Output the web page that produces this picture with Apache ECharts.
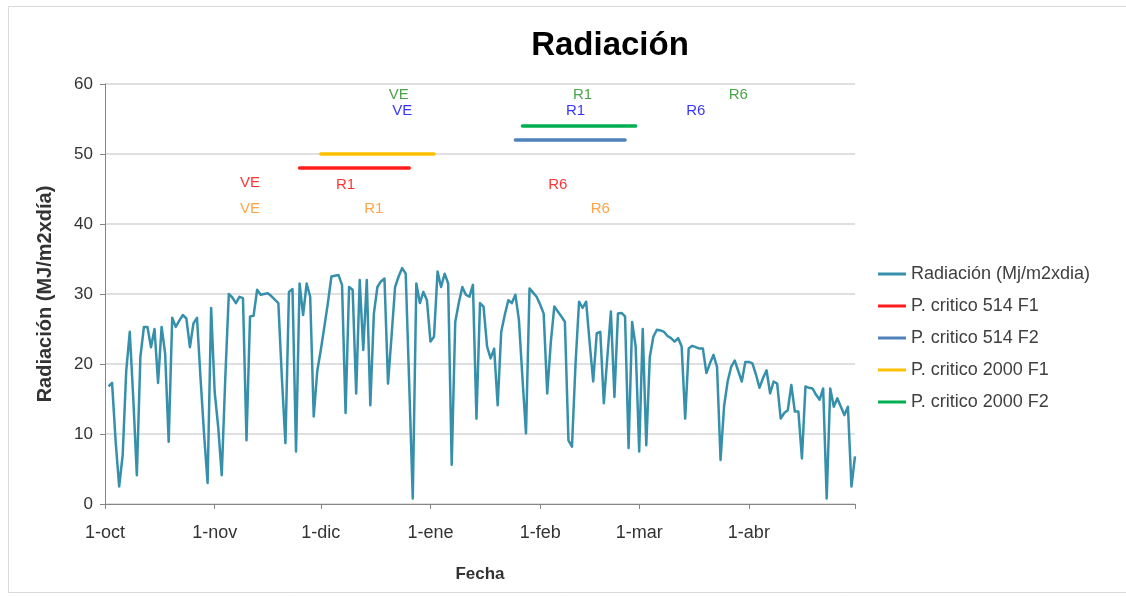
<!DOCTYPE html>
<html>
<head>
<meta charset="utf-8">
<script src="https://cdn.jsdelivr.net/npm/echarts@6/dist/echarts.min.js"></script>
<style>
html,body{margin:0;padding:0;background:#fff;}
#chart{width:1126px;height:597px;}
</style>
</head>
<body>
<div id="chart"></div>
<script>
// ---- Data ----
const monthNames = ['oct','nov','dic','ene','feb','mar','abr','may'];
const monthLengths = [31,30,31,31,28,31,30,1];

// Daily radiation (MJ/m2xdia), from 2-oct to 1-may
const radiacion = [
16.8,17.3,9,2.5,7,19,24.6,15,4.1,21,
25.3,25.3,22.4,25,17.3,25.3,21.5,8.9,26.6,25.3,
26.2,27,26.5,22.4,25.8,26.6,18,10,3,28,
16,11,4.1,18,30,29.5,28.7,29.6,29.4,9.1,
26.8,26.9,30.6,29.9,30,30.1,29.7,29.2,28.7,18,
8.7,30.3,30.7,7.5,31.5,27,31.5,29.6,12.5,19,
22,25.3,28.7,32.5,32.6,32.7,31.3,13,31,30.6,
15.8,32,22,32,14.1,27.2,31,31.8,32.2,17.2,
24,31,32.5,33.7,32.9,17,0.8,31.5,28.7,30.3,
29.1,23.2,23.9,33.2,31,32.9,31.5,5.6,26,28.7,
31,29.9,29.6,31.3,12.2,28.7,28.2,22.5,20.8,22.2,
14.1,24.6,27,29.1,28.7,29.9,26.3,18,10.1,30.8,
30.2,29.6,28.5,27.2,15.8,23,28.2,27.5,26.8,26,
9.1,8.2,20,28.9,28,28.9,23,17.5,24.4,24.6,
14.4,21,27.5,15.3,27.2,27.3,26.8,8,26,22.5,
7.5,25,8.4,21,23.9,24.9,24.8,24.6,24,23.7,
23.2,23.7,22.5,12.2,22.2,22.6,22.4,22.2,22.2,18.7,
20.1,21.3,19.6,6.3,14,17.5,19.6,20.5,19,17.5,
20.3,20.3,20.1,18.5,16.6,18,19.1,15.8,17.5,17.2,
12.2,13,13.4,17,13.2,13.2,6.5,16.8,16.6,16.5,
15.6,14.9,16.5,0.8,16.5,13.9,15.1,13.9,12.7,13.9,
2.5,6.8
];

// Critical periods: [start day index, end day index], level
const critico514F1 = [[55,48],[86,48]];
const critico514F2 = [[116,52],[147,52]];
const critico2000F1 = [[61,50],[93,50]];
const critico2000F2 = [[118,54],[150,54]];

// Phenology labels: [day index, level, text]
const etiquetasRojas = [[41,45.9,'VE'],[68,45.6,'R1'],[128,45.6,'R6']];
const etiquetasNaranjas = [[41,42.2,'VE'],[76,42.2,'R1'],[140,42.2,'R6']];
const etiquetasAzules = [[84,56.1,'VE'],[133,56.1,'R1'],[167,56.1,'R6']];
const etiquetasVerdes = [[83,58.5,'VE'],[135,58.5,'R1'],[179,58.5,'R6']];

const yTicks = {min:0, max:60, interval:10};

// ---- Build categories ----
const categories = [];
monthNames.forEach((m,i)=>{ for(let d=1; d<=monthLengths[i]; d++) categories.push(d+'-'+m); });
const lastIndex = categories.length - 1;
const radData = ['-'].concat(radiacion);

const FONT = 'Liberation Sans, Arial, sans-serif';
const chart = echarts.init(document.getElementById('chart'), null, {renderer:'canvas'});

function labelSeries(data, color){
  return {
    type:'scatter', data:data, symbolSize:1, silent:true,
    itemStyle:{color:'transparent'},
    label:{show:true, position:'inside', formatter:p=>p.data[2], color:color, fontSize:15, fontFamily:FONT},
    z:5
  };
}
function spanSeries(name, data, color){
  return {
    name:name, type:'line', data:data, symbol:'none', silent:true,
    lineStyle:{color:color, width:3.5, cap:'round'}, itemStyle:{color:color}
  };
}

chart.setOption({
  animation:false,
  backgroundColor:'#fff',
  grid:{left:105, right:271, top:84, bottom:93},
  graphic:[
    {type:'rect', shape:{x:8.5,y:6.5,width:1130,height:586}, style:{fill:'none', stroke:'#d9d9d9', lineWidth:1}, silent:true},
    {type:'text', style:{text:'Radiación', x:610, y:46, textAlign:'center', textVerticalAlign:'middle', font:'bold 33px '+FONT, fill:'#000'}}
  ],
  legend:{
    orient:'vertical', left:873, top:260, itemWidth:28, itemHeight:3, itemGap:14, icon:'rect',
    textStyle:{fontSize:18, fontFamily:FONT, color:'#404040'},
    data:['Radiación (Mj/m2xdia)','P. critico 514 F1','P. critico 514 F2','P. critico 2000 F1','P. critico 2000 F2']
  },
  xAxis:{
    type:'category', data:categories, boundaryGap:false,
    name:'Fecha', nameLocation:'middle', nameGap:62,
    nameTextStyle:{fontSize:17, fontWeight:'bold', fontFamily:FONT, color:'#333'},
    axisLine:{lineStyle:{color:'#868686', width:1}},
    axisTick:{show:true, length:5, interval:(i,v)=>v.indexOf('1-')===0, lineStyle:{color:'#868686'}},
    axisLabel:{interval:(i,v)=>v.indexOf('1-')===0 && i<lastIndex, fontSize:18, fontFamily:FONT, color:'#333', margin:20},
    splitLine:{show:false}
  },
  yAxis:{
    type:'value', min:yTicks.min, max:yTicks.max, interval:yTicks.interval,
    name:'Radiación (MJ/m2xdía)', nameLocation:'middle', nameGap:50, nameRotate:90,
    nameTextStyle:{fontSize:20, fontWeight:'bold', fontFamily:FONT, color:'#333'},
    axisLine:{show:true, lineStyle:{color:'#868686'}},
    axisTick:{show:true, length:5, lineStyle:{color:'#868686'}},
    axisLabel:{fontSize:17, fontFamily:FONT, color:'#333', margin:12},
    splitLine:{lineStyle:{color:'#d6d6d6', width:1.5}}
  },
  series:[
    {name:'Radiación (Mj/m2xdia)', type:'line', data:radData, symbol:'none',
     lineStyle:{color:'#3690ab', width:2.5, join:'round'}, itemStyle:{color:'#3690ab'}, z:3},
    spanSeries('P. critico 514 F1', critico514F1, '#ff1c1c'),
    spanSeries('P. critico 514 F2', critico514F2, '#4f81bd'),
    spanSeries('P. critico 2000 F1', critico2000F1, '#ffc000'),
    spanSeries('P. critico 2000 F2', critico2000F2, '#00b050'),
    labelSeries(etiquetasRojas, '#ff0000'),
    labelSeries(etiquetasNaranjas, '#ff8c1a'),
    labelSeries(etiquetasAzules, '#0000ff'),
    labelSeries(etiquetasVerdes, '#1e8c1e')
  ]
});
</script>
</body>
</html>
